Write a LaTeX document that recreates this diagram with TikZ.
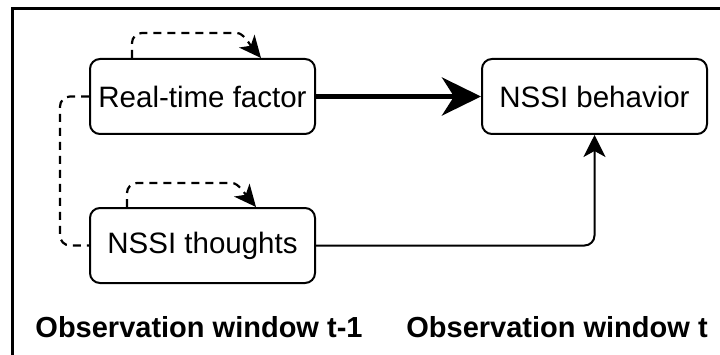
\documentclass[tikz,border=0pt]{standalone}
\usepackage{fontspec}
\setmainfont{Liberation Sans}
\usepackage{tikz}
\usetikzlibrary{arrows.meta}

\begin{document}
\begin{tikzpicture}[x=1pt, y=1pt, node distance=149pt]
\tikzstyle{factor} = [rectangle, rounded corners=10pt, minimum width=225pt, minimum height=75pt, text centered, draw=black, line width=2pt, font=\fontsize{29.5}{34}\selectfont]
\tikzstyle{window} = [font=\fontsize{29}{34}\selectfont\bfseries]
\tikzstyle{strong} = [line width=5pt, -{Stealth[length=39pt, width=38pt, inset=12pt]}]
\tikzstyle{weak} = [line width=2pt, rounded corners=10pt, -{Stealth[length=22pt, width=22pt, inset=6pt]}]
\tikzstyle{loop} = [line width=2.2pt, dash pattern=on 8pt off 6pt, rounded corners=10pt, -{Stealth[length=22pt, width=20pt, inset=6pt]}]
\tikzstyle{link} = [line width=2.2pt, dash pattern=on 8pt off 6pt, rounded corners=10pt]

\useasboundingbox (0,0) rectangle (720,354);
\draw[line width=3pt] (12,-5) -- (12,345) -- (725,345);

\node (rtf) [factor] at (202.5,257.5) {Real-time factor};
\node (thoughts) [factor, below of=rtf] {NSSI thoughts};
\node (behavior) [factor, right of=rtf, node distance=392pt] {NSSI behavior};

\node (win1) [window] at (199,27) {Observation window t-1};
\node (win2) [window] at (557,27) {Observation window t};

\draw [strong] (rtf) -- (behavior);
\draw [weak] (thoughts.east) -| (behavior.south);
\draw [link] (rtf.west) -- ++(-29,0) |- (thoughts.west);
\draw [loop] ([xshift=43pt]rtf.north west) |- ([xshift=138pt, yshift=25pt]rtf.north west) to[out=0, in=130] ([xshift=172pt]rtf.north west);
\draw [loop] ([xshift=38pt]thoughts.north west) |- ([xshift=133pt, yshift=24pt]thoughts.north west) to[out=0, in=130] ([xshift=167pt]thoughts.north west);
\end{tikzpicture}
\end{document}
